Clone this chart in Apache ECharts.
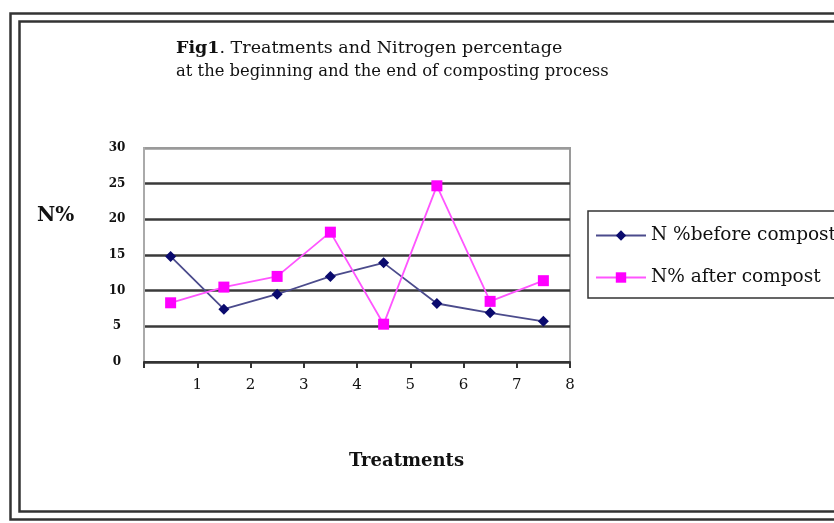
<!DOCTYPE html>
<html>
<head>
<meta charset="utf-8">
<script src="https://cdn.jsdelivr.net/npm/echarts@6/dist/echarts.min.js"></script>
<style>
  html, body { margin: 0; padding: 0; background: #fff; }
  #chart { width: 834px; height: 523px; }
</style>
</head>
<body>
<div id="chart"></div>
<script>
// Treatment numbers and nitrogen percentage per treatment
const treatments = [1, 2, 3, 4, 5, 6, 7, 8];
const nBefore = [14.8, 7.4, 9.5, 12.0, 13.9, 8.2, 6.9, 5.7];
const nAfter = [8.3, 10.5, 12.0, 18.2, 5.3, 24.7, 8.5, 11.4];
const yTicks = [0, 5, 10, 15, 20, 25, 30];
const seriesNames = ['N %before compost', 'N% after compost'];

const serif = "'DejaVu Serif', 'Liberation Serif', serif";

// Each treatment's point sits in the middle of its unit band, labels mark band edges
const toPoints = vals => treatments.map((t, i) => [t - 0.5, vals[i]]);

const chart = echarts.init(document.getElementById('chart'), null, { renderer: 'canvas' });

chart.setOption({
  animation: false,
  backgroundColor: '#fff',
  title: {
    left: 171,
    top: 31,
    text: '{b|Fig1}{l|. Treatments and Nitrogen percentage}\n{m|at the beginning and the end of composting process}',
    textStyle: {
      fontFamily: serif,
      fontSize: 17,
      fontWeight: 'normal',
      color: '#111',
      lineHeight: 24,
      rich: {
        b: { fontFamily: serif, fontSize: 17.5, fontWeight: 'bold', color: '#111', lineHeight: 24 },
        l: { fontFamily: serif, fontSize: 17.5, color: '#111', lineHeight: 24 },
        m: { fontFamily: serif, fontSize: 16.4, color: '#111', lineHeight: 24 }
      }
    }
  },
  legend: {
    orient: 'vertical',
    left: 588,
    top: 211,
    padding: [15, 12, 11, 7],
    itemGap: 23,
    itemWidth: 50,
    itemHeight: 13,
    borderColor: '#333',
    borderWidth: 1.5,
    data: seriesNames,
    textStyle: { fontFamily: serif, fontSize: 18.5, color: '#111' }
  },
  grid: {
    left: 144,
    right: 264,
    top: 148,
    bottom: 161,
    show: true,
    borderColor: '#9a9a9a',
    borderWidth: 2
  },
  xAxis: {
    type: 'value',
    min: 0,
    max: treatments.length,
    interval: 1,
    axisLine: { show: true, lineStyle: { color: '#333', width: 2 } },
    axisTick: { show: true, inside: false, length: 6, lineStyle: { color: '#333', width: 2 } },
    splitLine: { show: false },
    axisLabel: {
      margin: 16,
      fontFamily: serif,
      fontSize: 15,
      color: '#111',
      formatter: v => (v === 0 ? '' : String(v))
    }
  },
  yAxis: {
    type: 'value',
    min: yTicks[0],
    max: yTicks[yTicks.length - 1],
    interval: 5,
    axisLine: { show: true, lineStyle: { color: '#aaa', width: 2 } },
    axisTick: { show: false },
    splitLine: {
      show: true,
      lineStyle: {
        color: ['#333', '#3a3a3a', '#3a3a3a', '#3a3a3a', '#3a3a3a', '#3a3a3a', '#9a9a9a'],
        width: 2.5
      }
    },
    axisLabel: {
      margin: 27,
      align: 'center',
      fontFamily: serif,
      fontSize: 12,
      fontWeight: 'bold',
      color: '#111'
    }
  },
  series: [
    {
      name: seriesNames[0],
      type: 'line',
      data: toPoints(nBefore),
      symbol: 'diamond',
      symbolSize: 11,
      lineStyle: { color: '#4b4b8c', width: 1.8 },
      itemStyle: { color: '#0a0a6e', borderWidth: 0 }
    },
    {
      name: seriesNames[1],
      type: 'line',
      data: toPoints(nAfter),
      symbol: 'rect',
      symbolSize: 11,
      lineStyle: { color: '#ff55ff', width: 1.8 },
      itemStyle: { color: '#ff00ff', borderWidth: 0 }
    }
  ],
  graphic: [
    // double frame round the figure
    { type: 'rect', silent: true, shape: { x: 10.5, y: 13.5, width: 840, height: 506 },
      style: { fill: 'none', stroke: '#333', lineWidth: 2.5 } },
    { type: 'rect', silent: true, shape: { x: 19.5, y: 21.5, width: 840, height: 490 },
      style: { fill: 'none', stroke: '#333', lineWidth: 2.5 } },
    { type: 'text', left: 37, top: 206,
      style: { text: 'N%', font: "bold 20px 'DejaVu Serif', serif", fill: '#111' } },
    { type: 'text', left: 349, top: 452,
      style: { text: 'Treatments', font: "bold 18px 'DejaVu Serif', serif", fill: '#111' } }
  ]
});
</script>
</body>
</html>
